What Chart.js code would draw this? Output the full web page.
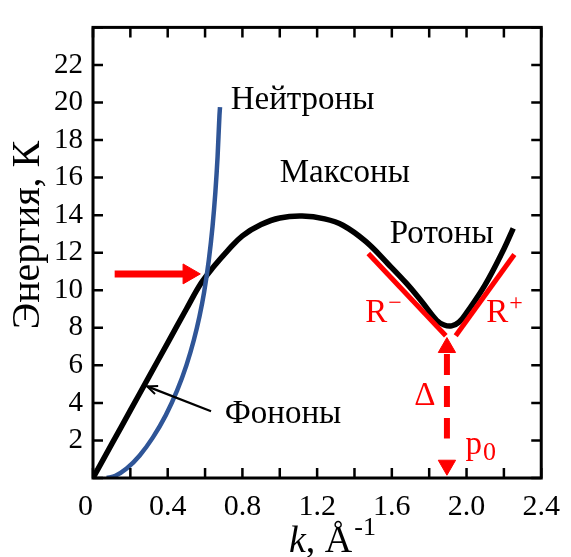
<!DOCTYPE html>
<html><head><meta charset="utf-8">
<script src="https://cdn.jsdelivr.net/npm/chart.js@4/dist/chart.umd.min.js"></script>
<style>html,body{margin:0;padding:0;background:#fff;overflow:hidden}</style>
</head><body>
<canvas id="c" width="571" height="557"></canvas>
<script>
// Landau dispersion curve (phonons - maxons - rotons)
const landauK = [0, 0.1, 0.2, 0.3, 0.4, 0.5, 0.58, 0.65, 0.72, 0.8, 0.9, 1.0, 1.12, 1.24, 1.34, 1.46, 1.58, 1.68, 1.76, 1.84, 1.88, 1.92, 1.96, 2.0, 2.1, 2.2, 2.25];
const landauE = [0, 1.8, 3.6, 5.4, 7.2, 9.0, 10.4, 11.3, 12.1, 12.9, 13.5, 13.85, 13.95, 13.8, 13.45, 12.6, 11.4, 10.35, 9.4, 8.4, 8.15, 8.1, 8.3, 8.8, 10.3, 12.2, 13.3];
// Free neutron curve
const neutronK = [0.074, 0.12, 0.18, 0.25, 0.32, 0.39, 0.45, 0.5, 0.54, 0.57, 0.595, 0.62, 0.64, 0.655, 0.667, 0.677, 0.68];
const neutronE = [0.0, 0.12, 0.5, 1.2, 2.15, 3.35, 4.65, 6.0, 7.35, 8.6, 9.9, 11.6, 13.4, 15.2, 17.1, 19.3, 19.75];
// Roton tangents R- and R+
const rMinusK = [1.474, 1.889];
const rMinusE = [11.96, 7.58];
const rPlusK = [1.942, 2.256];
const rPlusE = [7.58, 11.9];
// Dashed gap arrow (Δ, p0)
const gapShaftK = [1.895, 1.895];
const gapShaftE = [6.6, 2.1];
// Arrow pointing at the crossing
const crossShaftK = [0.116, 0.49];
const crossShaftE = [10.87, 10.87];
// Red arrowheads: position, size, rotation
const headK = [1.895, 1.895, 0.513];
const headE = [6.95, 0.68, 10.87];
const headR = [10, 10, 11.5];
const headRot = [0, 180, 90];
// Phonon pointer arrow (tail -> tip)
const phononArrowK = [0.632, 0.29];
const phononArrowE = [3.55, 4.88];
// Tick labels
const xTickLabels = ['0\u2002', '0.4', '0.8', '1.2', '1.6', '2.0', '2.4'];
const yTickLabels = ['', '2', '4', '6', '8', '10', '12', '14', '16', '18', '20', '22', ''];
// Annotations: main text, superscript, subscript
const noteText = ['Нейтроны', 'Максоны', 'Ротоны', 'Фононы', 'R', 'R', '\u0394', 'p'];
const noteSup = ['', '', '', '', '\u2212', '+', '', ''];
const noteSub = ['', '', '', '', '', '', '', '0'];
const noteK = [0.737, 1.0, 1.589, 0.705, 1.458, 2.105, 1.72, 1.995];
const noteE = [20.1, 16.25, 12.96, 3.4, 8.78, 8.78, 4.34, 1.72];
const noteColor = ['#000', '#000', '#000', '#000', '#f00', '#f00', '#f00', '#f00'];

const FONT = '"Liberation Serif", "Times New Roman", serif';
const RED = '#ff0000';
const pts = (ks, es) => ks.map((k, i) => ({x: k, y: es[i]}));

const decor = {
  id: 'decor',
  afterDatasetsDraw(chart) {
    const {ctx, chartArea: a, scales: {x, y}} = chart;
    ctx.save();
    // frame
    ctx.strokeStyle = '#000';
    ctx.lineWidth = 3;
    ctx.strokeRect(a.left, a.top, a.right - a.left, a.bottom - a.top);
    ctx.lineWidth = 2.5;
    x.ticks.forEach(t => {
      const px = x.getPixelForValue(t.value);
      ctx.beginPath();
      ctx.moveTo(px, a.bottom); ctx.lineTo(px, a.bottom - 10);
      ctx.moveTo(px, a.top); ctx.lineTo(px, a.top + 10);
      ctx.stroke();
    });
    y.ticks.forEach(t => {
      const py = y.getPixelForValue(t.value);
      ctx.beginPath();
      ctx.moveTo(a.left, py); ctx.lineTo(a.left + 10, py);
      ctx.moveTo(a.right, py); ctx.lineTo(a.right - 10, py);
      ctx.stroke();
    });
    // phonon arrow head (open V)
    const tx = x.getPixelForValue(phononArrowK[1]), ty = y.getPixelForValue(phononArrowE[1]);
    const sx = x.getPixelForValue(phononArrowK[0]), sy = y.getPixelForValue(phononArrowE[0]);
    const ang = Math.atan2(ty - sy, tx - sx);
    ctx.lineWidth = 2;
    ctx.beginPath();
    ctx.moveTo(tx - 11 * Math.cos(ang - 0.4), ty - 11 * Math.sin(ang - 0.4));
    ctx.lineTo(tx, ty);
    ctx.lineTo(tx - 11 * Math.cos(ang + 0.4), ty - 11 * Math.sin(ang + 0.4));
    ctx.stroke();
    // annotations
    ctx.textBaseline = 'middle';
    ctx.textAlign = 'left';
    noteText.forEach((s, i) => {
      ctx.fillStyle = noteColor[i];
      ctx.font = '33px ' + FONT;
      const px = x.getPixelForValue(noteK[i]), py = y.getPixelForValue(noteE[i]);
      ctx.fillText(s, px, py);
      const w = ctx.measureText(s).width;
      if (noteSup[i]) {
        ctx.font = '24px ' + FONT;
        ctx.fillText(noteSup[i], px + w + 1, py - 9);
      }
      if (noteSub[i]) {
        ctx.font = '26px ' + FONT;
        ctx.fillText(noteSub[i], px + w + 1, py + 7);
      }
    });
    // y title
    ctx.save();
    ctx.translate(28, 235);
    ctx.rotate(-Math.PI / 2);
    ctx.textAlign = 'center';
    ctx.fillStyle = '#000';
    ctx.font = '40px ' + FONT;
    ctx.fillText('Энергия, К', 0, 0);
    ctx.restore();
    // x title
    ctx.fillStyle = '#000';
    ctx.textBaseline = 'alphabetic';
    ctx.textAlign = 'left';
    let cx = 289, by = 552;
    ctx.font = 'italic 38px ' + FONT;
    ctx.fillText('k', cx, by); cx += ctx.measureText('k').width;
    ctx.font = '38px ' + FONT;
    ctx.fillText(', Å', cx, by); cx += ctx.measureText(', Å').width + 2;
    ctx.font = '26px ' + FONT;
    ctx.fillText('-1', cx, by - 17);
    ctx.restore();
  }
};

new Chart(document.getElementById('c'), {
  type: 'line',
  data: {
    datasets: [
      {data: pts(headK, headE), showLine: false, pointStyle: 'triangle', pointRadius: headR, pointRotation: headRot,
       pointBackgroundColor: RED, pointBorderColor: RED, pointBorderWidth: 1, order: 0},
      {data: pts(gapShaftK, gapShaftE), borderColor: RED, borderWidth: 6, borderDash: [21, 11], pointRadius: 0, order: 1},
      {data: pts(crossShaftK, crossShaftE), borderColor: RED, borderWidth: 7, pointRadius: 0, order: 1},
      {data: pts(rMinusK, rMinusE), borderColor: RED, borderWidth: 5, pointRadius: 0, order: 2},
      {data: pts(rPlusK, rPlusE), borderColor: RED, borderWidth: 5, pointRadius: 0, order: 2},
      {data: pts(phononArrowK, phononArrowE), borderColor: '#000', borderWidth: 2.2, pointRadius: 0, order: 3},
      {data: pts(neutronK, neutronE), borderColor: '#2f5597', borderWidth: 4.5, pointRadius: 0, cubicInterpolationMode: 'monotone', order: 4},
      {data: pts(landauK, landauE), borderColor: '#000', borderWidth: 5.5, pointRadius: 0, tension: 0.4, order: 5}
    ]
  },
  options: {
    responsive: false,
    animation: false,
    devicePixelRatio: 1,
    layout: {padding: {top: 18, right: 23, left: 0, bottom: 0}},
    plugins: {legend: {display: false}, tooltip: {enabled: false}},
    elements: {line: {borderCapStyle: 'butt'}},
    scales: {
      x: {
        type: 'linear', min: 0, max: 2.4,
        grid: {display: false, drawTicks: false},
        border: {display: false},
        ticks: {
          stepSize: 0.2, autoSkip: false, maxRotation: 0, padding: 11, color: '#000',
          font: {family: FONT, size: 30},
          callback: (v, i) => (i % 2 === 0 ? xTickLabels[i / 2] : '')
        },
        afterFit: s => { s.height = 79; }
      },
      y: {
        type: 'linear', min: 0, max: 24,
        grid: {display: false, drawTicks: false},
        border: {display: false},
        ticks: {
          stepSize: 2, autoSkip: false, padding: 10, color: '#000',
          font: {family: FONT, size: 29},
          callback: (v, i) => yTickLabels[i]
        },
        afterFit: s => { s.width = 93; }
      }
    }
  },
  plugins: [decor]
});
</script>
</body></html>
